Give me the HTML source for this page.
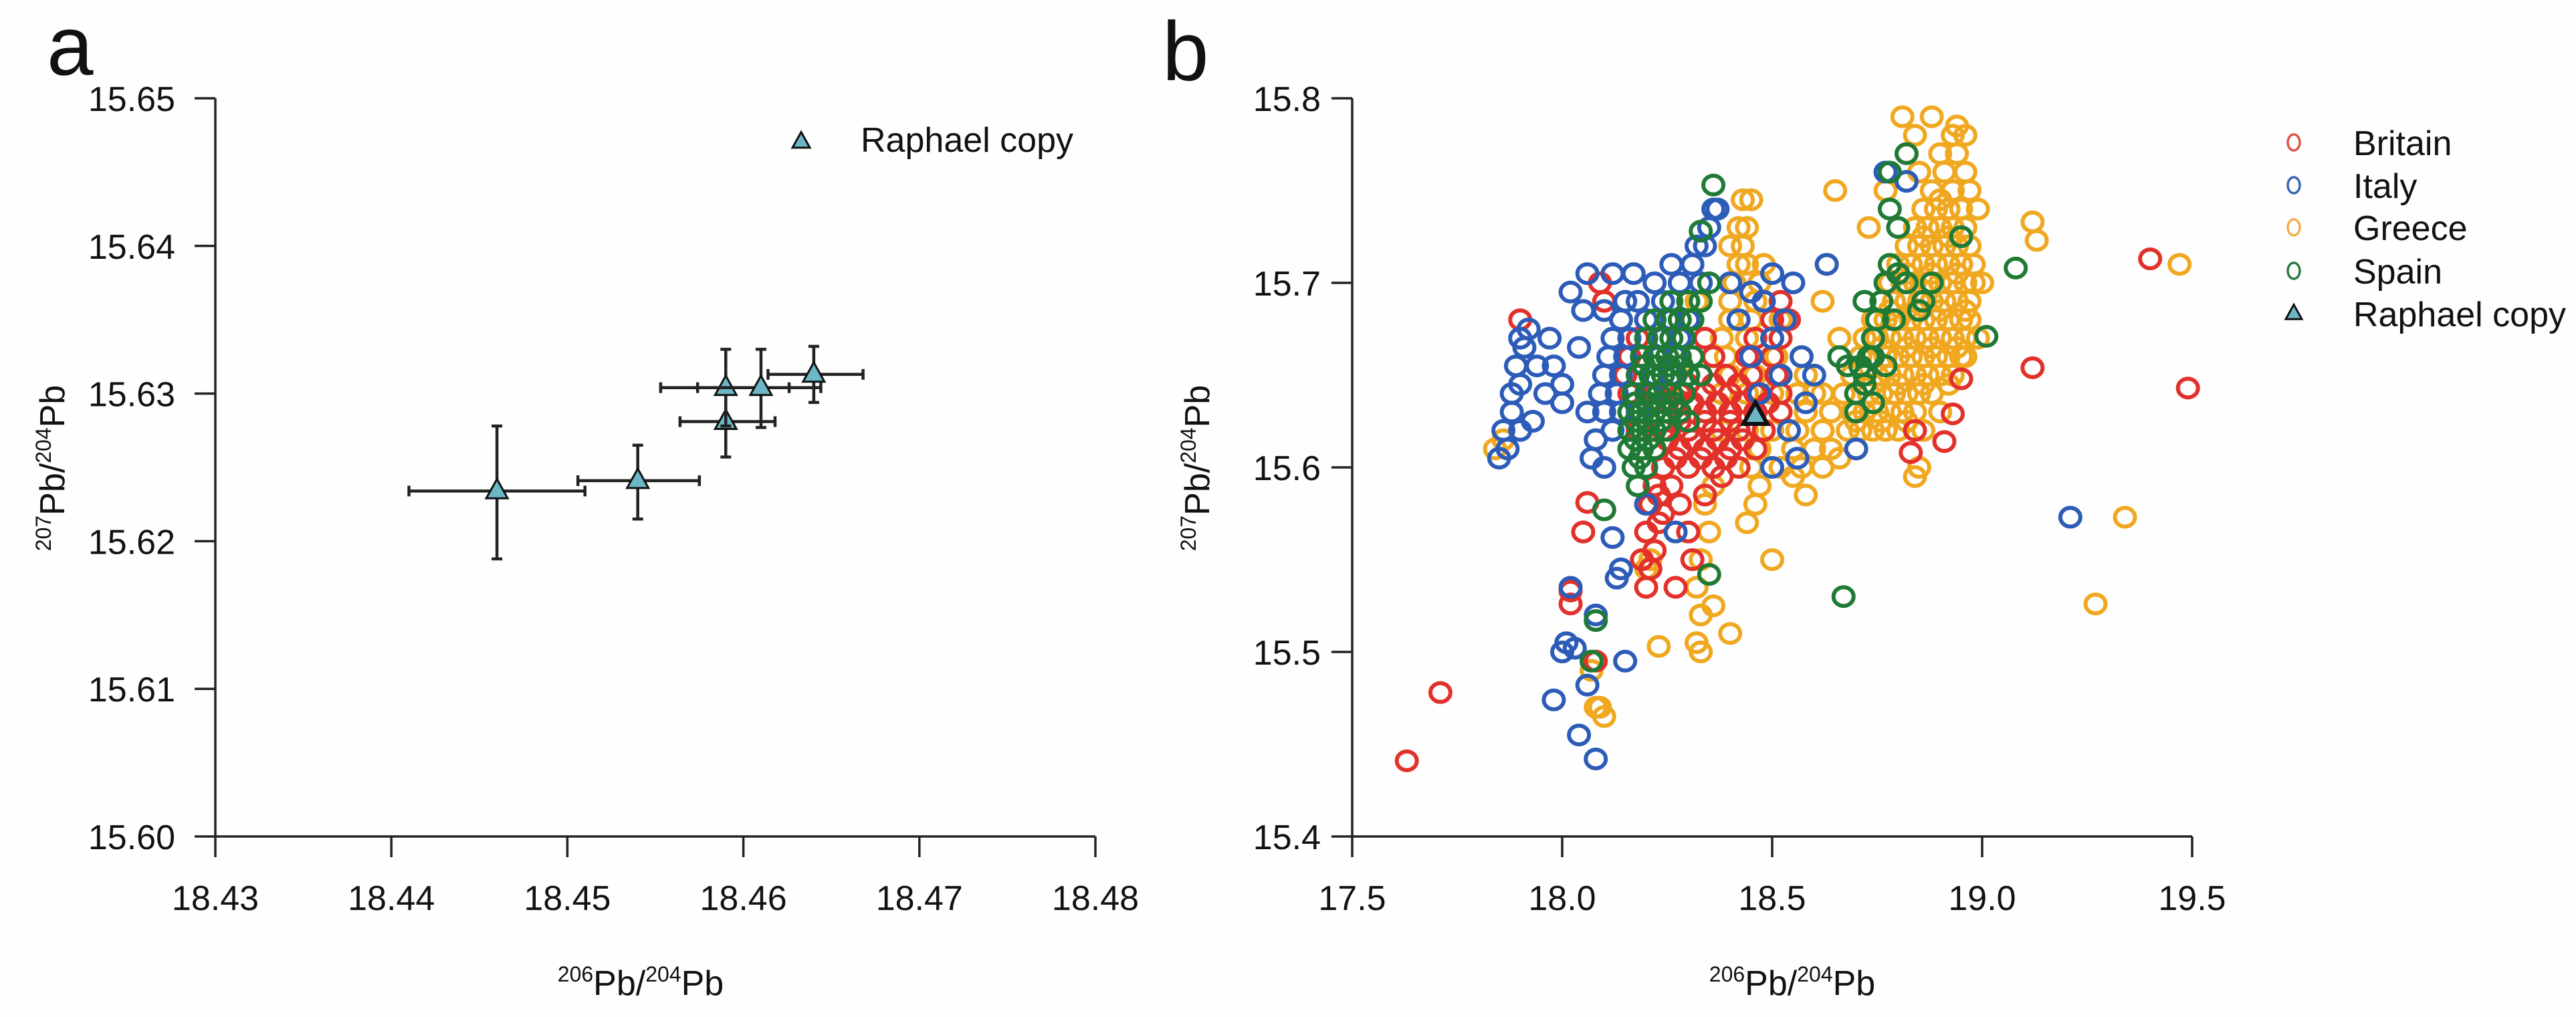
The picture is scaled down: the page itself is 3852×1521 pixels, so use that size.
<!DOCTYPE html>
<html><head><meta charset="utf-8"><style>
html,body{margin:0;padding:0;background:#fff;}
svg{display:block;font-family:"Liberation Sans",Arial,sans-serif;}
</style></head><body>
<svg id="fig" width="3852" height="1521" viewBox="0 0 3852 1521" xmlns="http://www.w3.org/2000/svg">
<rect width="3852" height="1521" fill="#fefefe"/>
<text x="70" y="112" font-size="125" fill="#111">a</text>
<text x="1738" y="120" font-size="125" fill="#111">b</text>
<g id="pa"></g>
<g id="pb"></g>
</svg>
<script>
// ---------- Panel a data ----------
const aX = [18.446, 18.454, 18.459, 18.459, 18.461, 18.464];
const aY = [15.6234, 15.6241, 15.6281, 15.6304, 15.6304, 15.6313];
const aXlo = [18.441, 18.4506, 18.4564, 18.4553, 18.4574, 18.4614];
const aXhi = [18.451, 18.4575, 18.4618, 18.4626, 18.4644, 18.4668];
const aYlo = [15.6188, 15.6215, 15.6257, 15.6278, 15.6277, 15.6294];
const aYhi = [15.6278, 15.6265, 15.6305, 15.6330, 15.6330, 15.6332];
const aXTicks = ["18.43","18.44","18.45","18.46","18.47","18.48"];
const aYTicks = ["15.60","15.61","15.62","15.63","15.64","15.65"];

// ---------- Panel b data ----------
const bXTicks = ["17.5","18.0","18.5","19.0","19.5"];
const bYTicks = ["15.4","15.5","15.6","15.7","15.8"];
const britainPts = "18.24,15.60 18.30,15.60 18.36,15.60 18.42,15.60 18.22,15.61 18.28,15.61 18.34,15.61 18.40,15.61 18.46,15.61 18.18,15.62 18.24,15.62 18.30,15.62 18.36,15.62 18.42,15.62 18.48,15.62 18.16,15.63 18.22,15.63 18.28,15.63 18.34,15.63 18.40,15.63 18.46,15.63 18.52,15.63 18.16,15.64 18.22,15.64 18.28,15.64 18.34,15.64 18.40,15.64 18.46,15.64 18.52,15.64 18.15,15.65 18.21,15.65 18.27,15.65 18.33,15.65 18.39,15.65 18.45,15.65 18.51,15.65 18.16,15.66 18.22,15.66 18.28,15.66 18.36,15.66 18.44,15.66 18.50,15.66 18.18,15.67 18.24,15.67 18.34,15.67 18.46,15.67 18.52,15.67 18.20,15.68 18.50,15.68 18.54,15.68 18.52,15.69 18.48,15.69 18.25,15.615 18.31,15.615 18.37,15.615 18.43,15.615 18.25,15.635 18.31,15.635 18.37,15.635 18.43,15.635 18.49,15.635 18.27,15.605 18.33,15.605 18.39,15.605 18.28,15.625 18.34,15.625 18.40,15.625 18.30,15.645 18.36,15.645 18.42,15.645 18.22,15.59 18.21,15.58 18.23,15.57 18.20,15.565 18.22,15.555 18.19,15.55 18.21,15.545 18.23,15.585 18.26,15.59 18.24,15.575 18.20,15.535 18.27,15.535 18.31,15.55 18.30,15.565 18.28,15.58 18.34,15.585 18.38,15.595 17.63,15.441 17.71,15.478 17.90,15.68 18.09,15.70 18.10,15.69 19.40,15.713 19.49,15.643 19.12,15.654 18.95,15.648 18.93,15.629 18.91,15.614 18.84,15.62 18.83,15.608 18.02,15.533 18.02,15.526 18.08,15.495 18.05,15.565 18.06,15.581";
const italyPts = "18.12,15.62 18.16,15.62 18.10,15.63 18.14,15.63 18.18,15.63 18.09,15.64 18.13,15.64 18.17,15.64 18.21,15.64 18.10,15.65 18.14,15.65 18.18,15.65 18.22,15.65 18.26,15.65 18.11,15.66 18.15,15.66 18.19,15.66 18.23,15.66 18.27,15.66 18.12,15.67 18.16,15.67 18.20,15.67 18.24,15.67 18.28,15.67 18.14,15.68 18.20,15.68 18.26,15.68 18.30,15.68 18.18,15.69 18.24,15.69 18.30,15.69 18.22,15.70 18.28,15.70 18.33,15.70 18.26,15.71 18.31,15.71 18.32,15.72 18.34,15.72 18.35,15.73 18.36,15.74 18.37,15.74 17.85,15.605 17.86,15.62 17.88,15.63 17.90,15.645 17.89,15.655 17.91,15.665 17.92,15.675 17.90,15.67 17.88,15.64 17.93,15.625 17.96,15.64 17.98,15.655 17.94,15.655 17.87,15.61 17.90,15.62 18.00,15.645 18.00,15.635 17.97,15.67 18.02,15.695 18.06,15.705 18.05,15.685 18.04,15.665 18.06,15.63 18.08,15.615 18.10,15.60 18.07,15.605 18.12,15.705 18.15,15.69 18.17,15.705 18.10,15.685 18.20,15.58 18.45,15.66 18.50,15.67 18.53,15.68 18.48,15.69 18.55,15.70 18.50,15.705 18.57,15.66 18.60,15.65 18.58,15.635 18.54,15.62 18.47,15.64 18.52,15.65 18.42,15.68 18.45,15.695 18.40,15.70 18.50,15.60 18.56,15.605 18.63,15.71 18.77,15.76 18.82,15.755 18.70,15.61 17.98,15.474 18.04,15.455 18.08,15.442 18.06,15.482 18.00,15.50 18.01,15.505 18.03,15.502 18.15,15.495 18.13,15.54 18.14,15.545 18.08,15.52 18.02,15.535 19.21,15.573 18.12,15.562 18.27,15.565";
const greecePts = "18.68,15.62 18.71,15.62 18.74,15.62 18.77,15.62 18.80,15.62 18.69,15.63 18.72,15.63 18.75,15.63 18.78,15.63 18.81,15.63 18.84,15.63 18.67,15.64 18.70,15.64 18.73,15.64 18.76,15.64 18.79,15.64 18.82,15.64 18.85,15.64 18.88,15.64 18.69,15.65 18.72,15.65 18.75,15.65 18.78,15.65 18.81,15.65 18.84,15.65 18.87,15.65 18.90,15.65 18.93,15.65 18.71,15.66 18.74,15.66 18.77,15.66 18.80,15.66 18.83,15.66 18.86,15.66 18.89,15.66 18.92,15.66 18.95,15.66 18.72,15.67 18.75,15.67 18.78,15.67 18.81,15.67 18.84,15.67 18.87,15.67 18.90,15.67 18.93,15.67 18.96,15.67 18.74,15.68 18.77,15.68 18.80,15.68 18.83,15.68 18.86,15.68 18.89,15.68 18.92,15.68 18.95,15.68 18.97,15.68 18.76,15.69 18.79,15.69 18.82,15.69 18.85,15.69 18.88,15.69 18.91,15.69 18.94,15.69 18.97,15.69 18.78,15.70 18.81,15.70 18.84,15.70 18.87,15.70 18.90,15.70 18.93,15.70 18.96,15.70 18.98,15.70 18.80,15.71 18.83,15.71 18.86,15.71 18.89,15.71 18.92,15.71 18.95,15.71 18.98,15.71 18.82,15.72 18.85,15.72 18.88,15.72 18.91,15.72 18.94,15.72 18.97,15.72 18.84,15.73 18.87,15.73 18.90,15.73 18.93,15.73 18.96,15.73 18.86,15.74 18.89,15.74 18.92,15.74 18.95,15.74 18.88,15.75 18.93,15.75 18.97,15.75 18.85,15.76 18.91,15.76 18.96,15.76 18.82,15.77 18.90,15.77 18.94,15.77 18.84,15.78 18.93,15.78 18.96,15.78 18.81,15.79 18.88,15.79 18.94,15.785 18.70,15.625 18.76,15.625 18.82,15.625 18.74,15.645 18.80,15.645 18.86,15.645 18.92,15.645 18.76,15.665 18.82,15.665 18.88,15.665 18.94,15.665 18.78,15.685 18.84,15.685 18.90,15.685 18.96,15.685 18.82,15.705 18.88,15.705 18.94,15.705 18.86,15.725 18.92,15.725 18.90,15.745 18.63,15.71 18.65,15.75 18.62,15.69 18.66,15.67 18.60,15.64 18.62,15.62 18.64,15.61 18.70,15.61 18.85,15.60 18.84,15.595 18.99,15.74 19.00,15.70 18.99,15.67 18.96,15.66 18.77,15.75 18.73,15.73 18.90,15.63 18.86,15.62 18.45,15.60 18.52,15.60 18.57,15.60 18.40,15.61 18.47,15.61 18.55,15.61 18.60,15.61 18.38,15.62 18.44,15.62 18.50,15.62 18.56,15.62 18.62,15.62 18.40,15.63 18.46,15.63 18.52,15.63 18.58,15.63 18.64,15.63 18.38,15.64 18.44,15.64 18.50,15.64 18.56,15.64 18.62,15.64 18.40,15.65 18.46,15.65 18.52,15.65 18.58,15.65 18.39,15.66 18.45,15.66 18.51,15.66 18.57,15.66 18.38,15.67 18.44,15.67 18.50,15.67 18.40,15.68 18.45,15.68 18.52,15.68 18.40,15.69 18.46,15.69 18.41,15.70 18.47,15.70 18.42,15.71 18.48,15.71 18.44,15.71 18.43,15.72 18.40,15.72 18.44,15.73 18.42,15.73 18.45,15.745 18.43,15.745 18.36,15.59 18.34,15.58 18.35,15.565 18.33,15.55 18.32,15.535 18.33,15.52 18.32,15.505 18.33,15.50 18.36,15.525 18.44,15.57 18.46,15.58 18.47,15.59 18.50,15.55 18.40,15.51 18.23,15.503 18.08,15.47 18.10,15.465 18.07,15.49 18.09,15.47 18.20,15.545 18.21,15.55 18.58,15.585 18.55,15.595 18.62,15.60 18.66,15.605 17.84,15.61 17.86,15.615 19.12,15.733 19.13,15.723 19.47,15.71 19.34,15.573 19.27,15.526 18.30,15.62 18.28,15.655 18.32,15.69 18.36,15.66 18.25,15.64 18.22,15.61";
const spainPts = "18.18,15.59 18.17,15.60 18.20,15.60 18.16,15.61 18.19,15.61 18.22,15.61 18.16,15.62 18.19,15.62 18.22,15.62 18.25,15.62 18.16,15.63 18.19,15.63 18.22,15.63 18.25,15.63 18.28,15.63 18.17,15.64 18.20,15.64 18.23,15.64 18.26,15.64 18.29,15.64 18.18,15.65 18.21,15.65 18.24,15.65 18.27,15.65 18.30,15.65 18.19,15.66 18.22,15.66 18.25,15.66 18.28,15.66 18.31,15.66 18.20,15.67 18.23,15.67 18.26,15.67 18.29,15.67 18.22,15.68 18.25,15.68 18.28,15.68 18.31,15.68 18.26,15.69 18.30,15.69 18.33,15.69 18.35,15.70 18.175,15.615 18.205,15.615 18.175,15.635 18.205,15.635 18.235,15.635 18.265,15.635 18.195,15.655 18.225,15.655 18.255,15.655 18.285,15.655 18.185,15.605 18.175,15.625 18.205,15.625 18.235,15.625 18.70,15.64 18.72,15.65 18.73,15.66 18.71,15.655 18.74,15.67 18.72,15.645 18.75,15.68 18.76,15.69 18.77,15.70 18.78,15.71 18.80,15.705 18.82,15.70 18.79,15.68 18.74,15.66 18.86,15.69 18.88,15.70 18.85,15.685 18.80,15.73 18.78,15.74 18.72,15.69 18.70,15.63 18.68,15.655 18.66,15.66 18.74,15.635 18.77,15.655 18.36,15.753 18.78,15.76 18.82,15.77 18.95,15.725 19.08,15.708 19.01,15.671 18.67,15.53 18.35,15.542 18.08,15.517 18.07,15.495 18.10,15.577 18.33,15.728 18.33,15.65 18.30,15.625";
const raphaelX = [18.46];
const raphaelY = [15.628];
const legendLabels = ["Britain","Italy","Greece","Spain","Raphael copy"];

const NS = "http://www.w3.org/2000/svg";
function mk(parent, tag, attrs, txt) {
  const e = document.createElementNS(NS, tag);
  for (const k in attrs) e.setAttribute(k, attrs[k]);
  if (txt !== undefined) e.textContent = txt;
  parent.appendChild(e);
  return e;
}
function tri(parent, cx, cy, s, sw) {
  const h = s * 0.9;
  return mk(parent, "polygon", {points: `${cx},${cy-h*0.62} ${cx-s/2},${cy+h*0.38} ${cx+s/2},${cy+h*0.38}`, fill: "#6db6c6", stroke: "#111", "stroke-width": sw});
}
function axisTitle(parent, x, y, rot, name) {
  const t = mk(parent, "text", {x: x, y: y, "font-size": 52, fill: "#111", "text-anchor": "middle", transform: rot ? `rotate(-90 ${x} ${y})` : ""});
  
  
  mk(t, "tspan", {"font-size": 32, dy: -20}, rot ? "207" : "206");
  mk(t, "tspan", {dy: 20}, "Pb/");
  mk(t, "tspan", {"font-size": 32, dy: -20}, "204");
  mk(t, "tspan", {dy: 20}, "Pb");
  return t;
}

// ---------- Panel a ----------
(function(){
  const g = document.getElementById("pa");
  const x0 = 322, x1 = 1638, y0 = 1251, y1 = 147;
  const X = v => x0 + (v - 18.43) / 0.05 * (x1 - x0);
  const Y = v => y0 - (v - 15.60) / 0.05 * (y0 - y1);
  const ax = mk(g, "path", {d: `M${x0},${y1} L${x0},${y0} L${x1},${y0}`, fill: "none", stroke: "#222", "stroke-width": 3.5});
  
  
  aXTicks.forEach(t => {
    const x = X(parseFloat(t));
    mk(g, "line", {x1: x, y1: y0, x2: x, y2: y0 + 31, stroke: "#222", "stroke-width": 3.5});
    const l = mk(g, "text", {x: x, y: y0 + 110, "font-size": 52, "text-anchor": "middle", fill: "#111"}, t);
    
    
  });
  aYTicks.forEach(t => {
    const y = Y(parseFloat(t));
    mk(g, "line", {x1: x0, y1: y, x2: x0 - 31, y2: y, stroke: "#222", "stroke-width": 3.5});
    const l = mk(g, "text", {x: 262, y: y + 19, "font-size": 52, "text-anchor": "end", fill: "#111"}, t);
    
    
  });
  axisTitle(g, 958, 1488, false, "x-axis-title");
  axisTitle(g, 96, 700, true, "y-axis-title");
  aX.forEach((v, i) => {
    const cx = X(v), cy = Y(aY[i]);
    const eb = mk(g, "g", {stroke: "#222", "stroke-width": 4.5});
    
    
    mk(eb, "line", {x1: X(aXlo[i]), y1: cy, x2: X(aXhi[i]), y2: cy});
    mk(eb, "line", {x1: X(aXlo[i]), y1: cy - 8, x2: X(aXlo[i]), y2: cy + 8});
    mk(eb, "line", {x1: X(aXhi[i]), y1: cy - 8, x2: X(aXhi[i]), y2: cy + 8});
    mk(eb, "line", {x1: cx, y1: Y(aYlo[i]), x2: cx, y2: Y(aYhi[i])});
    mk(eb, "line", {x1: cx - 8, y1: Y(aYlo[i]), x2: cx + 8, y2: Y(aYlo[i])});
    mk(eb, "line", {x1: cx - 8, y1: Y(aYhi[i]), x2: cx + 8, y2: Y(aYhi[i])});
    const p = tri(g, cx, cy, 32, 3);
    
    
  });
  const lg = mk(g, "g", {});
  
  
  tri(lg, 1198, 212, 26, 3);
  mk(lg, "text", {x: 1287, y: 227, "font-size": 52, fill: "#111"}, "Raphael copy");
})();

// ---------- Panel b ----------
(function(){
  const g = document.getElementById("pb");
  const x0 = 2022, x1 = 3278, y0 = 1251, y1 = 147;
  const X = v => x0 + (v - 17.5) / 2.0 * (x1 - x0);
  const Y = v => y0 - (v - 15.4) / 0.4 * (y0 - y1);
  const ax = mk(g, "path", {d: `M${x0},${y1} L${x0},${y0} L${x1},${y0}`, fill: "none", stroke: "#222", "stroke-width": 3.5});
  
  
  bXTicks.forEach(t => {
    const x = X(parseFloat(t));
    mk(g, "line", {x1: x, y1: y0, x2: x, y2: y0 + 31, stroke: "#222", "stroke-width": 3.5});
    const l = mk(g, "text", {x: x, y: y0 + 110, "font-size": 52, "text-anchor": "middle", fill: "#111"}, t);
    
    
  });
  bYTicks.forEach(t => {
    const y = Y(parseFloat(t));
    mk(g, "line", {x1: x0, y1: y, x2: x0 - 31, y2: y, stroke: "#222", "stroke-width": 3.5});
    const l = mk(g, "text", {x: 1975, y: y + 19, "font-size": 52, "text-anchor": "end", fill: "#111"}, t);
    
    
  });
  axisTitle(g, 2680, 1488, false, "x-axis-title");
  axisTitle(g, 1808, 700, true, "y-axis-title");
  const series = [
    {name: "greece", pts: greecePts, col: "#f0a820"},
    {name: "britain", pts: britainPts, col: "#e2312a"},
    {name: "italy", pts: italyPts, col: "#2c5cb8"},
    {name: "spain", pts: spainPts, col: "#1f7a36"}
  ];
  series.forEach(s => {
    const sg = mk(g, "g", {fill: "none", stroke: s.col, "stroke-width": 6});
    
    
    s.pts.trim().split(/\s+/).forEach(p => {
      const [vx, vy] = p.split(",").map(Number);
      const c = mk(sg, "ellipse", {cx: X(vx), cy: Y(vy), rx: 15, ry: 14});
      
      
    });
  });
  raphaelX.forEach((v, i) => {
    const p = tri(g, X(v), Y(raphaelY[i]), 36, 6);
    
    
  });
  const lg = mk(g, "g", {});
  
  
  const lcols = ["#d9564a", "#3a65b5", "#efb04a", "#2b7a45"];
  const ly = [213, 277, 340, 405, 469];
  legendLabels.forEach((lab, i) => {
    if (i < 4) mk(lg, "ellipse", {cx: 3430, cy: ly[i], rx: 9, ry: 12, fill: "none", stroke: lcols[i], "stroke-width": 3.5});
    else tri(lg, 3430, ly[i], 24, 3);
    const t = mk(lg, "text", {x: 3519, y: ly[i] + 19, "font-size": 52, fill: "#111"}, lab);
    
    
  });
})();
</script>
</body></html>
